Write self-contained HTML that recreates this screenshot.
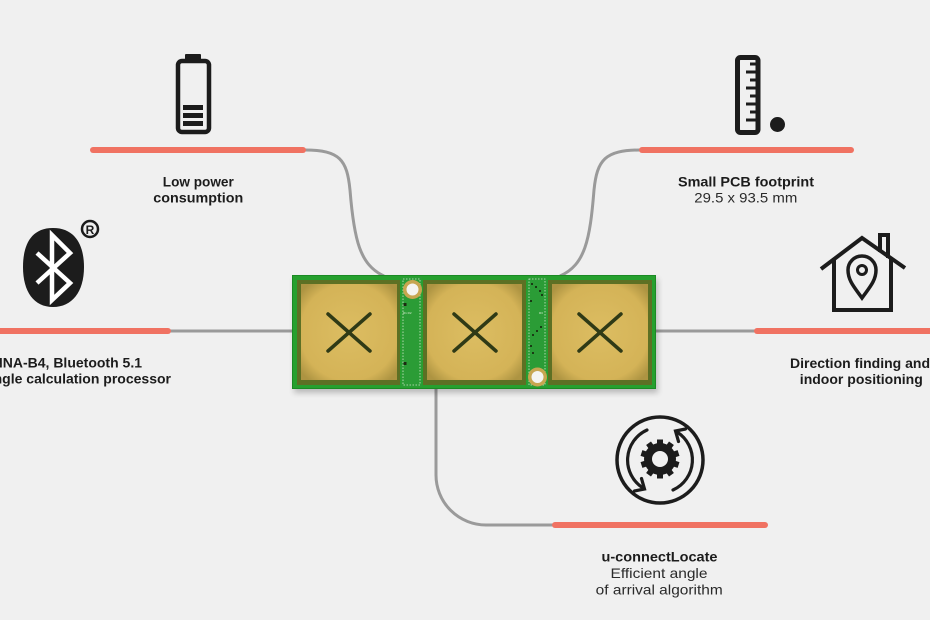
<!DOCTYPE html>
<html>
<head>
<meta charset="utf-8">
<style>
  html,body{margin:0;padding:0;background:#f0f0f0;}
  svg{display:block;}
  .b{font-family:"Liberation Sans",sans-serif;font-weight:bold;font-size:14px;fill:#1c1c1c;}
  .r{font-family:"Liberation Sans",sans-serif;font-size:14px;fill:#2a2a2a;}
</style>
</head>
<body>
<svg width="930" height="620" viewBox="0 0 930 620" xmlns="http://www.w3.org/2000/svg">
  <defs>
    <radialGradient id="gold" cx="50%" cy="50%" r="65%">
      <stop offset="0%" stop-color="#dcbd62"/>
      <stop offset="78%" stop-color="#d4b357"/>
      <stop offset="100%" stop-color="#ad9442"/>
    </radialGradient>
    <filter id="sh" x="-10%" y="-20%" width="120%" height="150%">
      <feGaussianBlur stdDeviation="3"/>
    </filter>
  </defs>
  <rect width="930" height="620" fill="#f0f0f0"/>

  <!-- gray connectors -->
  <g fill="none" stroke="#9a9a9a" stroke-width="3">
    <path d="M305,150 C340,150 347,160 350,190 C354,240 360,265 384,276"/>
    <path d="M640,150 C605,150 597,160 594,190 C590,240 585,265 560,276"/>
    <path d="M165,331 H295"/>
    <path d="M655,331 H760"/>
    <path d="M436,388 V475 A50,50 0 0 0 486,525 H556"/>
  </g>

  <!-- red bars -->
  <g stroke="#f07262" stroke-width="6" stroke-linecap="round">
    <line x1="93" y1="150" x2="303" y2="150"/>
    <line x1="642" y1="150" x2="851" y2="150"/>
    <line x1="-5" y1="331" x2="168" y2="331"/>
    <line x1="757" y1="331" x2="935" y2="331"/>
    <line x1="555" y1="525" x2="765" y2="525"/>
  </g>

  <!-- PCB -->
  <rect x="294" y="279" width="364" height="114" fill="#000" opacity="0.22" filter="url(#sh)"/>
  <rect x="292" y="275" width="364" height="114" fill="#26a02e"/>
  <rect x="292.5" y="275.5" width="363" height="113" fill="none" stroke="#1b8a24" stroke-width="1"/>
  <!-- pad frames -->
  <rect x="297" y="280" width="103" height="105" fill="#5d7024"/>
  <rect x="423" y="280" width="103" height="105" fill="#5d7024"/>
  <rect x="548" y="280" width="104" height="105" fill="#5d7024"/>
  <!-- gold pads -->
  <rect x="301" y="284" width="96" height="96" fill="url(#gold)"/>
  <rect x="427" y="284" width="95" height="96" fill="url(#gold)"/>
  <rect x="552" y="284" width="96" height="96" fill="url(#gold)"/>
  <!-- strips -->
  <rect x="401" y="277" width="21" height="110" fill="#2b9c36"/>
  <rect x="527" y="277" width="20" height="110" fill="#2b9c36"/>
  <rect x="403" y="279" width="17" height="106" fill="none" stroke="#cfe8c8" stroke-width="0.8" stroke-dasharray="1.5,1.5"/>
  <rect x="529" y="279" width="16" height="106" fill="none" stroke="#cfe8c8" stroke-width="0.8" stroke-dasharray="1.5,1.5"/>
  <rect x="403.5" y="303" width="3" height="3" fill="#1a2a10"/>
  <rect x="403.5" y="362" width="3" height="3" fill="#1a2a10"/>
  <g fill="#1a3a14">
    <rect x="531" y="283" width="2" height="2"/><rect x="535" y="286" width="2" height="2"/><rect x="539" y="290" width="2" height="2"/>
    <rect x="541" y="294" width="2" height="2"/><rect x="530" y="300" width="2" height="2"/>
    <rect x="540" y="326" width="2" height="2"/><rect x="536" y="330" width="2" height="2"/><rect x="532" y="334" width="2" height="2"/>
    <rect x="530" y="345" width="2" height="2"/><rect x="532" y="352" width="2" height="2"/>
  </g>
  <g font-family="Liberation Sans,sans-serif" font-size="3" fill="#d8ecd0">
    <text x="403" y="314">R1  R2</text>
    <text x="539" y="314">R3</text>
  </g>
  <!-- holes -->
  <circle cx="412.5" cy="289.5" r="9.5" fill="#c7a650"/>
  <circle cx="412.5" cy="289.5" r="6" fill="#f4f4f0"/>
  <circle cx="537.5" cy="377" r="9.5" fill="#c7a650"/>
  <circle cx="537.5" cy="377" r="6" fill="#f4f4f0"/>
  <!-- X marks -->
  <g stroke="#2f3a16" stroke-width="3.5" stroke-linecap="round">
    <line x1="328" y1="314" x2="370" y2="351"/><line x1="370" y1="314" x2="328" y2="351"/>
    <line x1="454" y1="314" x2="496" y2="351"/><line x1="496" y1="314" x2="454" y2="351"/>
    <line x1="579" y1="314" x2="621" y2="351"/><line x1="621" y1="314" x2="579" y2="351"/>
  </g>

  <!-- Battery icon -->
  <g fill="#1c1c1c">
    <rect x="185" y="54" width="16" height="7" rx="1"/>
    <rect x="183" y="105" width="20" height="5"/>
    <rect x="183" y="113" width="20" height="5"/>
    <rect x="183" y="121" width="20" height="5"/>
  </g>
  <rect x="178" y="61" width="31" height="71" rx="4" fill="none" stroke="#1c1c1c" stroke-width="4.5"/>

  <!-- Ruler icon -->
  <rect x="737.5" y="57.5" width="20.5" height="75" rx="3" fill="none" stroke="#1c1c1c" stroke-width="5"/>
  <g stroke="#1c1c1c" stroke-width="3">
    <line x1="758" y1="64" x2="750" y2="64"/>
    <line x1="758" y1="72" x2="746" y2="72"/>
    <line x1="758" y1="80" x2="750" y2="80"/>
    <line x1="758" y1="88" x2="746" y2="88"/>
    <line x1="758" y1="96" x2="750" y2="96"/>
    <line x1="758" y1="104" x2="746" y2="104"/>
    <line x1="758" y1="112" x2="750" y2="112"/>
    <line x1="758" y1="120" x2="746" y2="120"/>
  </g>
  <circle cx="777.5" cy="124.5" r="7.5" fill="#1c1c1c"/>

  <!-- Bluetooth icon -->
  <path d="M53,228 C77,228 84,248 84,267 C84,292 72,307 53,307 C34,307 23,292 23,267 C23,248 29,228 53,228 Z" fill="#1c1c1c"/>
  <path d="M37,253 L70,283 L52,300 L52,235 L70,253 L37,283" fill="none" stroke="#fff" stroke-width="4.5" stroke-linejoin="miter"/>
  <circle cx="90" cy="229" r="8" fill="none" stroke="#1c1c1c" stroke-width="2.5"/>
  <text x="90" y="234" text-anchor="middle" font-family="Liberation Sans,sans-serif" font-weight="bold" font-size="12" fill="#1c1c1c">R</text>

  <!-- House icon -->
  <g fill="none" stroke="#1c1c1c" stroke-width="4" stroke-linejoin="miter">
    <polyline points="821,269 862,238 905,268"/>
    <polyline points="880,252 880,235 888,235 888,258"/>
    <polyline points="834,258 834,310 891,310 891,258"/>
    <path d="M862,298 C855,288 848,281 848,270 A14,14 0 0 1 876,270 C876,281 869,288 862,298 Z" stroke-width="3.5"/>
    <circle cx="862" cy="270" r="4.5" stroke-width="3"/>
  </g>

  <!-- Gear icon -->
  <circle cx="660" cy="460" r="43" fill="none" stroke="#1c1c1c" stroke-width="3.5"/>
  <g fill="#1c1c1c" transform="translate(660,459)">
    <circle r="16"/>
    <rect x="-3" y="-19.5" width="6" height="39"/>
    <rect x="-3" y="-19.5" width="6" height="39" transform="rotate(36)"/>
    <rect x="-3" y="-19.5" width="6" height="39" transform="rotate(72)"/>
    <rect x="-3" y="-19.5" width="6" height="39" transform="rotate(108)"/>
    <rect x="-3" y="-19.5" width="6" height="39" transform="rotate(144)"/>
  </g>
  <circle cx="660" cy="459" r="8" fill="#f0f0f0"/>
  <g fill="none" stroke="#1c1c1c" stroke-width="3.2" stroke-linecap="round">
    <path d="M647,430 A33,33 0 0 0 643,488"/>
    <path d="M641.5,478.5 L644.5,489 L634.5,491"/>
    <path d="M673,490 A33,33 0 0 0 677,432"/>
    <path d="M678.5,441.5 L675.5,431 L685.5,429"/>
  </g>

  <!-- Labels -->
  <text class="b" x="198.3" y="186.5" text-anchor="middle" textLength="71" lengthAdjust="spacingAndGlyphs">Low power</text>
  <text class="b" x="198.3" y="202.5" text-anchor="middle" textLength="90" lengthAdjust="spacingAndGlyphs">consumption</text>

  <text class="b" x="746" y="186.5" text-anchor="middle" textLength="136" lengthAdjust="spacingAndGlyphs">Small PCB footprint</text>
  <text class="r" x="745.8" y="202.5" text-anchor="middle" textLength="103" lengthAdjust="spacingAndGlyphs">29.5 x 93.5 mm</text>

  <text class="b" x="142" y="367.5" text-anchor="end">ANNA-B4, Bluetooth 5.1</text>
  <text class="b" x="171" y="383.5" text-anchor="end">Angle calculation processor</text>

  <text class="b" x="790" y="368">Direction finding and</text>
  <text class="b" x="861.3" y="384" text-anchor="middle" textLength="123" lengthAdjust="spacingAndGlyphs">indoor positioning</text>

  <text class="b" x="659.5" y="561.5" text-anchor="middle" textLength="116" lengthAdjust="spacingAndGlyphs">u-connectLocate</text>
  <text class="r" x="659" y="578" text-anchor="middle" textLength="97" lengthAdjust="spacingAndGlyphs">Efficient angle</text>
  <text class="r" x="659.2" y="594.7" text-anchor="middle" textLength="127" lengthAdjust="spacingAndGlyphs">of arrival algorithm</text>
</svg>
</body>
</html>
